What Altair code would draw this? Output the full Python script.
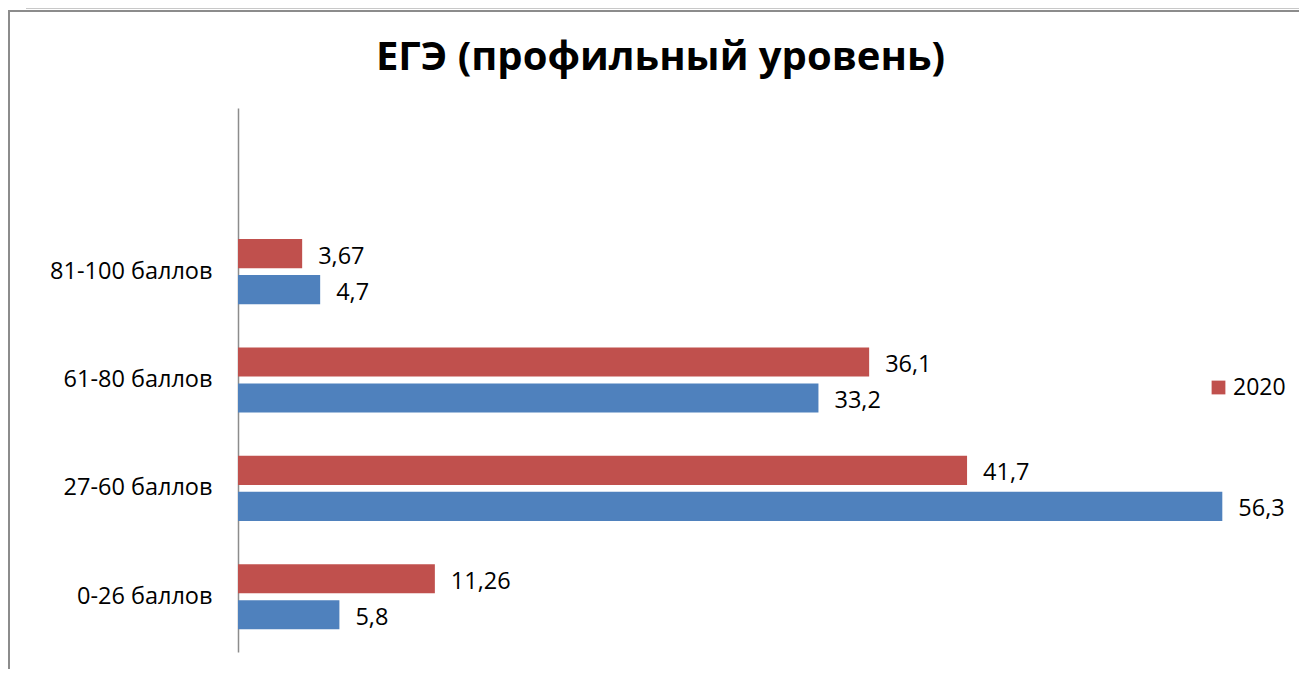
import altair as alt
import pandas as pd

categories = ["81-100 баллов", "61-80 баллов", "27-60 баллов", "0-26 баллов"]
series_names = ["2020", "2019"]
values_2020 = [3.67, 36.1, 41.7, 11.26]
values_2019 = [4.7, 33.2, 56.3, 5.8]
colors = ["#C0504D", "#4F81BD"]

rows = []
for c, a, b in zip(categories, values_2020, values_2019):
    rows.append({"cat": c, "series": "2020", "value": a})
    rows.append({"cat": c, "series": "2019", "value": b})
df = pd.DataFrame(rows)
df["label"] = df["value"].map(lambda v: f"{v:g}".replace(".", ","))

FONT = "Open Sans"
y_domain = [""] + categories

y_enc = alt.Y("cat:N", scale=alt.Scale(domain=y_domain, paddingInner=0.4, paddingOuter=0.21),
              axis=alt.Axis(title=None, ticks=False, domainColor="#8c8c8c", domainWidth=1.5,
                            labelFont=FONT, labelFontSize=23.5, labelColor="#000000",
                            labelPadding=26, labelLimit=300))
yoff = alt.YOffset("series:N", scale=alt.Scale(domain=series_names, paddingInner=0.19, paddingOuter=0))
x_enc = alt.X("value:Q", scale=alt.Scale(domain=[0, 60], nice=False), axis=None)

bars = alt.Chart(df).mark_bar().encode(
    x=x_enc, y=y_enc, yOffset=yoff,
    color=alt.Color("series:N", scale=alt.Scale(domain=series_names, range=colors),
                    legend=alt.Legend(title=None, values=["2020"], orient="none",
                                      legendX=969, legendY=268, symbolType="square",
                                      symbolSize=190, symbolStrokeWidth=0, padding=0,
                                      labelFont=FONT, labelFontSize=23, labelColor="#000000",
                                      labelOffset=3)),
)

texts = alt.Chart(df).mark_text(align="left", baseline="middle", dx=16, dy=3,
                                font=FONT, fontSize=23.5, color="#000000").encode(
    x=x_enc, y=alt.Y("cat:N", scale=alt.Scale(domain=y_domain, paddingInner=0.4, paddingOuter=0.21)),
    yOffset=yoff, text="label:N",
)

frame_light = alt.Chart(df).mark_rule(color="#c8c8c8", strokeWidth=1).encode(
    x=alt.value(-212), x2=alt.value(1061), y=alt.value(-99.5))
frame_top = alt.Chart(df).mark_rule(color="#8c8c8c", strokeWidth=2).encode(
    x=alt.value(-230), x2=alt.value(1061), y=alt.value(-97))
frame_left = alt.Chart(df).mark_rule(color="#8c8c8c", strokeWidth=2).encode(
    x=alt.value(-229), y=alt.value(-98), y2=alt.value(561))

chart = alt.layer(frame_light, frame_top, frame_left, bars, texts).properties(
    width=1049, height=544,
    title=alt.TitleParams("ЕГЭ (профильный уровень)", font=FONT, fontSize=40,
                          fontWeight="bold", color="#000000", anchor="middle", dx=-102,
                          baseline="alphabetic", dy=106),
    autosize=alt.AutoSizeParams(type="none"),
    padding={"left": 230, "top": 100, "right": 12, "bottom": 17},
).configure_view(stroke=None)

chart.save("out.html", embed_options={"renderer": "svg", "actions": False})
